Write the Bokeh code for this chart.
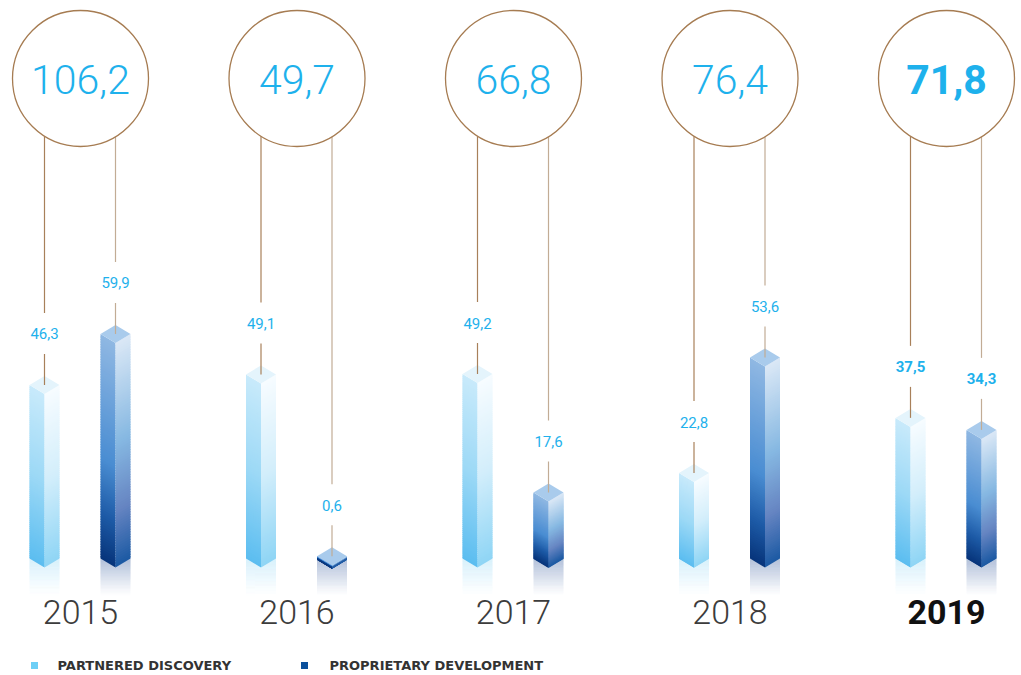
import math
from bokeh.plotting import figure
from bokeh.models import Range1d
from bokeh.core.properties import value
from bokeh.embed import file_html
from bokeh.resources import INLINE

# ---------------- data ----------------
years = ["2015", "2016", "2017", "2018", "2019"]
partnered = [46.3, 49.1, 49.2, 22.8, 37.5]
proprietary = [59.9, 0.6, 17.6, 53.6, 34.3]
totals = [106.2, 49.7, 66.8, 76.4, 71.8]
legend_labels = ["PARTNERED DISCOVERY", "PROPRIETARY DEVELOPMENT"]


def fmt(v):
    return f"{v:.1f}".replace(".", ",")


# ---------------- layout constants (page pixels) ----------------
W, H = 1021, 675
MARGIN = 0
GROUP0, STEP = 80.0, 216.5      # centre of first group, spacing
BASE, SCALE = 558.0, 3.75       # baseline pixel row, pixels per unit
CIRCLE_CY, CIRCLE_R = 78.0, 68.0
OFF_L, OFF_R = -36.0, 35.0      # bar offsets from group centre
HALF_W, DIAM = 15.0, 9.0


def dx(px):
    return px / STEP


def dy(px):
    return px / SCALE


def xpx(px):
    return (px - GROUP0) / STEP


def ypx(py):
    return (BASE - py) / SCALE


p = figure(width=W, height=H, output_backend="svg", toolbar_location=None,
           x_range=Range1d(xpx(MARGIN), xpx(MARGIN + W)),
           y_range=Range1d(ypx(MARGIN + H), ypx(MARGIN)),
           min_border=0, outline_line_color=None)
p.axis.visible = False
p.grid.visible = False
p.background_fill_color = "white"
p.border_fill_color = "white"


def hex2rgb(h):
    h = h.lstrip("#")
    return tuple(int(h[i:i + 2], 16) for i in (0, 2, 4))


def grad(stops, t):
    for (t0, c0), (t1, c1) in zip(stops[:-1], stops[1:]):
        if t <= t1:
            f = 0 if t1 == t0 else (t - t0) / (t1 - t0)
            a, b = hex2rgb(c0), hex2rgb(c1)
            return "#%02x%02x%02x" % tuple(round(a[k] + (b[k] - a[k]) * f) for k in range(3))
    return stops[-1][1]


STYLES = {
    "light": dict(
        left=[(0, "#c8eafb"), (0.5, "#9dd9f6"), (1, "#5bbdf0")],
        right=[(0, "#f7fcff"), (0.5, "#d3eefb"), (1, "#8fd5f5")],
        top="#e4f4fc", refl="#bfe8fa"),
    "dark": dict(
        left=[(0, "#90b8e3"), (0.55, "#4a8dd2"), (0.8, "#1d5aa6"), (1, "#07347a")],
        right=[(0, "#dbe8f6"), (0.45, "#86b8e2"), (0.75, "#6685c2"), (1, "#1b59a3")],
        top="#a9cbec", refl="#7d96c1"),
}

N = 90
hw, dd = dx(HALF_W), dy(DIAM)
refl_depth = dy(38)


def draw_bar(xc, v, style):
    st = STYLES[style]
    # reflection
    xs, ys, cols, alphas = [], [], [], []
    for i in range(N):
        a = -refl_depth * i / N
        b = -refl_depth * (i + 1) / N
        xs.append([xc - hw, xc + hw, xc + hw, xc - hw])
        ys.append([a, a, b, b])
        cols.append(st["refl"])
        alphas.append(0.75 * (1 - (i + 0.5) / N) ** 1.3)
    p.patches(xs, ys, fill_color=cols, fill_alpha=alphas, line_color=None)
    # faces
    xs, ys, cols = [], [], []
    for i in range(N):
        a = v * (1 - i / N)
        b = v * (1 - (i + 1) / N)
        ext = dy(1.2) if i < N - 1 else 0
        t = (i + 0.5) / N
        xs.append([xc - hw, xc, xc, xc - hw])
        ys.append([a, a - dd, b - dd - ext, b - ext])
        cols.append(grad(st["left"], t))
        xs.append([xc, xc + hw, xc + hw, xc])
        ys.append([a - dd, a, b - ext, b - dd - ext])
        cols.append(grad(st["right"], t))
    p.patches(xs, ys, fill_color=cols, line_color=None)
    # top diamond
    p.patch([xc - hw, xc, xc + hw, xc], [v, v + dd, v, v - dd],
            fill_color=st["top"], line_color=None)


LINE_L, LINE_R = "#a8805a", "#c2ac95"
BLUE = "#1eb1ec"
LBL_OFF = dy(51)

for i, yr in enumerate(years):
    bold = (i == len(years) - 1)
    for off, val, style, lc in ((OFF_L, partnered[i], "light", LINE_L),
                                (OFF_R, proprietary[i], "dark", LINE_R)):
        xc = i + dx(off)
        draw_bar(xc, val, style)
        ly = val + LBL_OFF
        edge = ypx(CIRCLE_CY + math.sqrt(CIRCLE_R ** 2 - off ** 2))
        p.segment(x0=[xc, xc], y0=[val, ly + dy(21)], x1=[xc, xc], y1=[ly - dy(20), edge],
                  line_color=lc, line_width=1.2)
        p.text(x=[xc], y=[ly], text=[fmt(val)], text_align="center", text_baseline="middle",
               text_color=BLUE, text_font=value("Roboto"), text_font_size="15px",
               text_font_style="bold" if bold else "normal")
    # circle with total
    p.scatter(x=[i], y=[ypx(CIRCLE_CY)], marker="circle", size=2 * CIRCLE_R,
              fill_color="white", line_color="#a67c52", line_width=1.3)
    p.text(x=[i], y=[ypx(CIRCLE_CY + 1)], text=[fmt(totals[i])], text_align="center",
           text_baseline="middle", text_color=BLUE,
           text_font=value("Roboto" if bold else "Roboto Light"),
           text_font_size="41px", text_font_style="bold" if bold else "normal")
    # year
    p.text(x=[i], y=[ypx(611)], text=[yr], text_align="center", text_baseline="middle",
           text_color="#111111" if bold else "#3c3c3c",
           text_font=value("Roboto" if bold else "Roboto Light"),
           text_font_size="34px", text_font_style="bold" if bold else "normal")

# legend
leg_sq_x = [xpx(34), xpx(304)]
leg_tx_x = [xpx(57), xpx(329)]
leg_y = ypx(665)
p.scatter(x=leg_sq_x, y=[leg_y, leg_y], marker="square", size=7,
          fill_color=["#6dcff6", "#0b509c"], line_color=None)
p.text(x=leg_tx_x, y=[leg_y, leg_y], text=legend_labels, text_align="left",
       text_baseline="middle", text_color="#333333", text_font=value("DejaVu Sans"),
       text_font_size="13px", text_font_style="bold")

open("out.html", "w").write(file_html(p, INLINE))
